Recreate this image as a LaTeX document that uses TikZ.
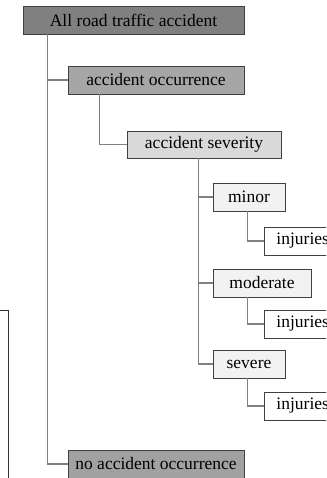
\documentclass[tikz,border=0pt]{standalone}
\usepackage{fontspec}
\setmainfont{Liberation Serif}
\begin{document}
\begin{tikzpicture}[x=1pt,y=-1pt,
  box/.style={draw=black!75, line width=0.9pt, inner sep=0pt, font=\fontsize{17.5}{20}\selectfont},
  conn/.style={draw=black!50, line width=1.3pt},
  leaf/.style={box, fill=white, anchor=west, minimum height=28pt, text width=70pt, align=left, inner xsep=12pt}]
\useasboundingbox (0,0) rectangle (326,478);
\clip (0,0) rectangle (326,478);
\fill[white] (0,0) rectangle (326,478);
% fragment of a box at the left edge
\draw[draw=black!80, line width=1pt] (-20,310) -- (8,310) -- (8,490);
\node[box, fill=black!50, minimum width=221pt, minimum height=28pt] (root) at (133.5,20) {All road traffic accident};
\node[box, fill=black!35, minimum width=176pt, minimum height=28pt] (occ) at (156,80) {accident occurrence};
\node[box, fill=black!15, minimum width=154pt, minimum height=27pt] (sev) at (204,144.5) {accident severity};
\node[box, fill=black!5, minimum width=72pt, minimum height=28pt] (minor) at (249,197) {minor};
\node[box, fill=black!5, minimum width=98pt, minimum height=28pt] (mod) at (262,283) {moderate};
\node[box, fill=black!5, minimum width=72pt, minimum height=28pt] (sevr) at (249,364) {severe};
\node[leaf] (inj1) at (264,241) {injuries};
\node[leaf] (inj2) at (264,324) {injuries};
\node[leaf] (inj3) at (264,406) {injuries};
\node[box, fill=black!37, minimum width=176pt, minimum height=28pt] (noacc) at (156,464) {no accident occurrence};
% connectors
\draw[conn] ([xshift=25pt]root.south west) |- (occ.west);
\draw[conn] ([xshift=25pt]root.south west) |- (noacc.west);
\draw[conn] ([xshift=32pt]occ.south west) |- (sev.west);
\draw[conn] ([xshift=72pt]sev.south west) |- (minor.west);
\draw[conn] ([xshift=72pt]sev.south west) |- (mod.west);
\draw[conn] ([xshift=72pt]sev.south west) |- (sevr.west);
\draw[conn] ([xshift=35pt]minor.south west) |- (inj1.west);
\draw[conn] ([xshift=35pt]mod.south west) |- (inj2.west);
\draw[conn] ([xshift=35pt]sevr.south west) |- (inj3.west);
\end{tikzpicture}
\end{document}
